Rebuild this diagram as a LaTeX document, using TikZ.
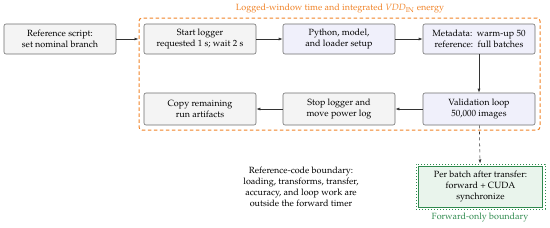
\documentclass[tikz,border=0pt]{standalone}
\usepackage[T1]{fontenc}
\usepackage{mathpazo}
\usetikzlibrary{arrows.meta,positioning,fit}
\definecolor{boxgray}{HTML}{F4F4F4}
\definecolor{boxblue}{HTML}{F0F0FB}
\definecolor{edgegray}{HTML}{6E6E6E}
\definecolor{orng}{HTML}{F08226}
\definecolor{grn}{HTML}{2F8A4E}
\definecolor{grnfill}{HTML}{E9F4EC}
\definecolor{arr}{HTML}{333333}
\tikzset{
  base/.style={draw=edgegray, line width=0.6pt, rounded corners=2pt, minimum width=112pt, minimum height=30pt, align=center, inner sep=1pt, font=\fontsize{9}{11}\selectfont},
  graybox/.style={base, fill=boxgray},
  bluebox/.style={base, fill=boxblue},
  conn/.style={draw=arr, line width=0.6pt, -{Latex[length=4pt,width=3pt]}},
}
\begin{document}
\begin{tikzpicture}[x=1pt,y=-1pt]
\useasboundingbox (0,0) rectangle (550,228);
\node[graybox] (ref) at (60,39) {Reference script:\\set nominal branch};
\node[graybox] (start) at (200,39) {Start logger\\requested 1 s; wait 2 s};
\node[bluebox] (py) at (339,39) {Python, model,\\and loader setup};
\node[bluebox] (meta) at (479,39) {Metadata:\ \ warm-up 50\\reference:\ \ full batches};
\node[bluebox, minimum height=32pt] (val) at (479,109) {Validation loop\\50,000 images};
\node[graybox, minimum height=32pt] (stop) at (339,109) {Stop logger and\\move power log};
\node[graybox, minimum height=32pt] (copy) at (200,109) {Copy remaining\\run artifacts};
\node[draw=orng, dashed, line width=1pt, dash pattern=on 3.5pt off 2.5pt, rounded corners=3pt, minimum width=401pt, minimum height=112pt, inner sep=0pt] (frame) at (339.5,74) {};
\node[text=orng, font=\fontsize{9}{11}\selectfont] (title) at (340,9) {Logged-window time and integrated $\mathit{VDD}_{\mathrm{IN}}$ energy};
\node[draw=grn, dotted, line width=1pt, minimum width=129pt, minimum height=45pt, inner sep=0pt] (gouter) at (480.5,186.5) {};
\node[draw=grn, fill=grnfill, line width=1pt, minimum width=124pt, minimum height=41pt, align=center, inner sep=1pt, font=\fontsize{9}{11}\selectfont] (fwd) at (480.5,186.5) {Per batch after transfer:\\forward + CUDA\\synchronize};
\node[text=grn, font=\fontsize{9}{11}\selectfont] (flabel) at (480,218) {Forward-only boundary};
\node[align=center, font=\fontsize{9}{11}\selectfont] (note) at (301,187) {Reference-code boundary:\\loading, transforms, transfer,\\accuracy, and loop work are\\outside the forward timer};
\draw[conn] (ref) -- (ref -| frame.west);
\draw[conn] (start) -- (py);
\draw[conn] (py) -- (meta);
\draw[conn] (meta) -- (val);
\draw[conn] (val) -- (stop);
\draw[conn] (stop) -- (copy);
\draw[conn, dashed] (val) -- (gouter);
\end{tikzpicture}
\end{document}
